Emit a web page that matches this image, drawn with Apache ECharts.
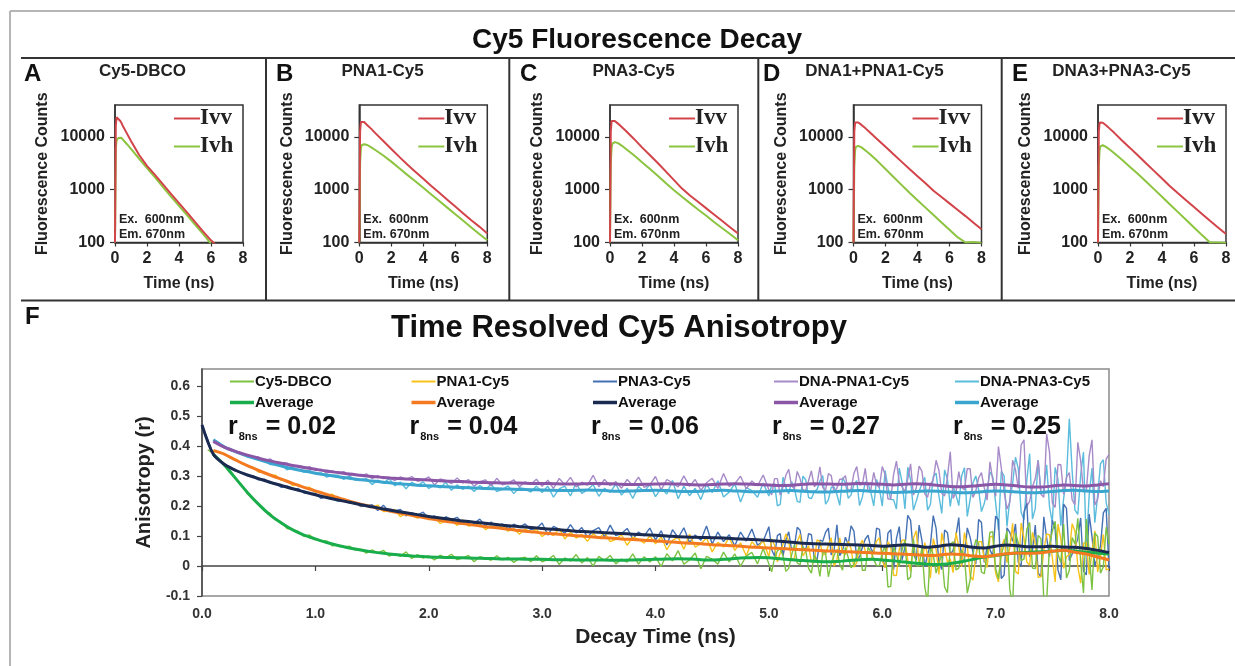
<!DOCTYPE html>
<html><head><meta charset="utf-8">
<script src="https://cdn.jsdelivr.net/npm/echarts/dist/echarts.min.js"></script>
<style>html,body{margin:0;padding:0;background:#fff}#c{width:1235px;height:666px}</style>
</head><body><div id="c"></div>
<script>
// ---------------- DATA ----------------
const panelLetters = ['A','B','C','D','E'];
const panelNames = ['Cy5-DBCO','PNA1-Cy5','PNA3-Cy5','DNA1+PNA1-Cy5','DNA3+PNA3-Cy5'];
const decayLegend = ['Ivv','Ivh'];
const decayYLabels = [100, 1000, 10000];
const decayT = [0,0.05,0.1,0.15,0.2,0.3,0.4,0.5,0.75,1,1.5,2,2.5,3,3.5,4,4.5,5,5.5,6,6.5,7,7.5,8];
const ivvA = [100,15850,23440,23170,22390,20420,18410,15850,11480,8320,4570,2820,1905,1259,832,556,372,245,162,110,79,null,null,null];
const ivhA = [100,6030,8510,9230,9510,9590,9550,9120,7240,5890,3890,2570,1700,1120,741,495,331,219,145,95,null,null,null,null];
const ivvB = [100,12590,19050,19950,19720,19050,18200,16600,14130,11750,8320,5890,4170,2985,2188,1603,1175,871,646,479,355,263,200,148];
const ivhB = [100,3160,6030,6920,7160,7240,7160,7000,6310,5620,4420,3390,2540,1905,1445,1084,813,610,457,343,257,193,145,110];
const ivvC = [100,12590,19950,20890,20650,19950,19050,17780,15140,12880,9120,6310,4470,3160,2190,1514,1047,776,589,447,339,257,195,148];
const ivhC = [100,3160,6310,7410,7760,7940,7850,7590,6760,5890,4470,3310,2455,1820,1318,977,733,556,422,324,245,188,145,110];
const ivvD = [100,12590,18620,19500,19280,18620,17780,16790,14450,12300,8910,6460,4680,3390,2455,1800,1318,955,724,550,417,316,237,178];
const ivhD = [100,2820,5500,6460,6680,6760,6610,6310,5500,4790,3470,2455,1738,1230,871,631,457,331,240,174,126,100,102,98];
const ivvE = [100,12590,18620,19500,19280,18410,17580,16600,14130,12020,8510,6170,4420,3160,2265,1622,1161,851,631,468,347,257,193,145];
const ivhE = [100,2820,5620,6610,6840,6920,6760,6460,5690,4950,3670,2690,1972,1429,1023,733,525,376,269,193,138,100,100,98];

const anisoNames = ['Cy5-DBCO','PNA1-Cy5','PNA3-Cy5','DNA-PNA1-Cy5','DNA-PNA3-Cy5'];
const r8ns = ['0.02','0.04','0.06','0.27','0.25'];
const anisoXLabels = ['0.0','1.0','2.0','3.0','4.0','5.0','6.0','7.0','8.0'];
const rawStep = 0.05;    // ns between raw samples (from t = 0)
const fineStart = 5.025; // extra raw samples between the regular ones, late noisy part
const avgStep = 0.1;     // ns between average samples

const rawDBCO = [null,0.387,0.374,0.354,0.339,0.310,0.290,0.270,0.241,0.227,
0.206,0.184,0.176,0.154,0.147,0.125,0.121,0.115,0.098,0.103,
0.087,0.084,0.083,0.067,0.070,0.063,0.066,0.053,0.056,0.043,
0.054,0.043,0.052,0.033,0.040,0.032,0.047,0.025,0.038,0.026,
0.034,0.020,0.036,0.027,0.039,0.021,0.026,0.035,0.014,0.031,
0.026,0.019,0.034,0.020,0.029,0.012,0.025,0.029,0.014,0.034,
0.014,0.021,0.035,0.005,0.027,0.016,0.038,0.010,0.028,0.000,
0.032,0.018,0.035,0.007,0.023,0.013,0.040,0.006,0.031,0.013,
0.031,-0.002,0.041,0.017,0.051,0.006,0.020,0.043,-0.009,0.032,
0.023,0.006,0.046,0.014,0.040,-0.001,0.033,0.045,0.007,0.058,
0.007,0.026,0.059,-0.018,0.036,0.010,0.063,-0.008,0.036,-0.035,
0.044,0.009,0.055,-0.014,0.028,0.004,0.071,-0.014,0.047,0.001,
0.044,-0.070,0.065,-0.001,0.085,-0.037,0.001,0.063,-0.120,0.037,
0.013,-0.070,0.072,-0.013,0.054,-0.090,0.038,0.074,-0.026,0.112,
-0.009,0.038,0.117,-0.130,0.077,0.023,0.145,-0.009,0.091,-0.120,
0.115,0.039,0.140,-0.015,0.072,0.015,0.156,-0.080,0.098,-0.003,
0.073];
const rawPNA1 = [null,null,0.381,0.379,0.374,0.359,0.356,0.341,0.334,0.329,
0.312,0.312,0.302,0.302,0.285,0.285,0.268,0.272,0.261,0.262,
0.246,0.245,0.236,0.239,0.222,0.225,0.213,0.213,0.200,0.205,
0.195,0.203,0.181,0.183,0.188,0.164,0.177,0.169,0.159,0.171,
0.154,0.161,0.141,0.151,0.153,0.135,0.153,0.133,0.136,0.141,
0.121,0.133,0.125,0.135,0.116,0.125,0.106,0.123,0.113,0.122,
0.098,0.112,0.101,0.125,0.090,0.112,0.093,0.105,0.082,0.108,
0.091,0.112,0.081,0.089,0.104,0.069,0.096,0.089,0.076,0.100,
0.074,0.097,0.054,0.085,0.096,0.056,0.106,0.063,0.074,0.093,
0.047,0.079,0.063,0.095,0.052,0.077,0.034,0.081,0.059,0.085,
0.030,0.069,0.043,0.107,0.021,0.080,0.034,0.068,0.012,0.081,
0.040,0.094,0.019,0.043,0.082,-0.004,0.066,0.050,0.019,0.083,
0.018,0.081,-0.031,0.056,0.087,-0.018,0.117,0.004,0.035,0.091,
-0.028,0.062,0.024,0.111,-0.002,0.067,-0.047,0.080,0.023,0.097,
-0.024,0.058,0.011,0.142,-0.027,0.092,0.002,0.073,-0.036,0.106,
0.029,0.140,-0.008,0.039,0.116,-0.057,0.080,0.045,-0.020,0.105,
-0.010];
const rawPNA3 = [0.468,0.422,0.368,0.354,0.338,0.330,0.316,0.311,0.302,0.301,
0.286,0.289,0.276,0.275,0.262,0.266,0.256,0.258,0.243,0.241,
0.242,0.225,0.231,0.225,0.216,0.222,0.210,0.212,0.198,0.201,
0.204,0.185,0.202,0.181,0.183,0.188,0.167,0.178,0.169,0.179,
0.159,0.167,0.148,0.164,0.154,0.162,0.143,0.150,0.142,0.156,
0.134,0.146,0.133,0.140,0.124,0.139,0.129,0.140,0.121,0.125,
0.143,0.103,0.132,0.123,0.109,0.138,0.110,0.128,0.096,0.118,
0.128,0.097,0.136,0.101,0.108,0.125,0.090,0.113,0.100,0.126,
0.087,0.117,0.070,0.121,0.094,0.127,0.078,0.103,0.086,0.133,
0.073,0.113,0.081,0.104,0.067,0.113,0.083,0.123,0.069,0.083,
0.131,0.033,0.108,0.087,0.054,0.129,0.061,0.108,0.029,0.086,
0.112,0.037,0.137,0.051,0.071,0.116,0.030,0.089,0.058,0.126,
0.026,0.109,-0.012,0.131,0.063,0.152,0.019,0.085,0.038,0.168,
0.010,0.120,0.039,0.100,0.004,0.127,0.046,0.155,0.012,0.055,
0.166,-0.042,0.127,0.082,0.012,0.179,0.031,0.136,-0.035,0.094,
0.152,-0.013,0.206,0.018,0.062,0.160,-0.030,0.098,0.030,0.177,
-0.010];
const rawDNA1 = [null,null,0.417,0.405,0.393,0.391,0.380,0.377,0.365,0.365,
0.363,0.349,0.357,0.343,0.342,0.343,0.329,0.333,0.327,0.331,
0.318,0.322,0.309,0.317,0.310,0.314,0.302,0.305,0.300,0.307,
0.291,0.301,0.291,0.296,0.284,0.297,0.288,0.298,0.282,0.286,
0.297,0.270,0.290,0.285,0.274,0.293,0.276,0.288,0.265,0.281,
0.287,0.266,0.292,0.270,0.276,0.287,0.264,0.280,0.272,0.289,
0.265,0.286,0.258,0.291,0.271,0.295,0.263,0.279,0.269,0.302,
0.264,0.288,0.268,0.281,0.259,0.288,0.268,0.296,0.262,0.270,
0.298,0.253,0.288,0.277,0.263,0.300,0.265,0.288,0.252,0.277,
0.292,0.258,0.308,0.265,0.274,0.299,0.257,0.283,0.267,0.303,
0.254,0.291,0.236,0.302,0.266,0.315,0.253,0.284,0.264,0.330,
0.251,0.301,0.259,0.289,0.247,0.308,0.269,0.325,0.255,0.270,
0.331,0.223,0.304,0.279,0.248,0.340,0.260,0.315,0.229,0.287,
0.318,0.233,0.380,0.246,0.264,0.324,0.228,0.293,0.260,0.347,
0.232,0.327,0.190,0.352,0.258,0.420,0.215,0.291,0.239,0.440,
0.210,0.338,0.238,0.311,0.204,0.351,0.250,0.420,0.222,0.264,
0.372];
const rawDNA3 = [null,null,0.419,0.411,0.393,0.390,0.378,0.374,0.363,0.362,
0.352,0.355,0.338,0.337,0.339,0.320,0.327,0.321,0.312,0.318,
0.307,0.310,0.296,0.302,0.302,0.288,0.300,0.286,0.287,0.291,
0.271,0.286,0.276,0.291,0.267,0.279,0.257,0.279,0.267,0.280,
0.258,0.269,0.260,0.279,0.252,0.270,0.255,0.266,0.248,0.268,
0.255,0.272,0.248,0.255,0.267,0.241,0.261,0.257,0.246,0.266,
0.245,0.266,0.229,0.257,0.266,0.233,0.277,0.242,0.253,0.271,
0.232,0.259,0.245,0.273,0.236,0.259,0.225,0.265,0.248,0.271,
0.231,0.259,0.240,0.285,0.224,0.266,0.234,0.259,0.221,0.271,
0.244,0.284,0.230,0.246,0.274,0.213,0.261,0.251,0.229,0.276,
0.233,0.274,0.205,0.261,0.281,0.215,0.299,0.228,0.247,0.282,
0.206,0.262,0.238,0.294,0.225,0.271,0.201,0.280,0.244,0.288,
0.199,0.262,0.221,0.326,0.190,0.287,0.216,0.273,0.186,0.298,
0.233,0.320,0.198,0.237,0.300,0.165,0.277,0.254,0.208,0.313,
0.211,0.315,0.132,0.274,0.324,0.154,0.374,0.192,0.245,0.337,
0.144,0.289,0.225,0.490,0.186,0.302,0.060,0.326,0.236,0.354,
0.172];

// extra raw samples at t = 5.025, 5.075, ... 7.975
const fineDBCO = [-0.019,0.050,0.033,-0.008,0.070,0.004,0.053,-0.024,0.020,0.044,
-0.036,0.035,0.006,0.062,-0.006,0.035,-0.014,0.062,0.022,0.001,
0.067,-0.068,0.040,0.054,-0.046,0.090,0.000,-0.070,0.062,-0.024,
0.038,-0.089,0.081,-0.007,0.032,-0.047,0.088,-0.020,0.039,0.114,
-0.043,0.072,-0.078,0.109,0.018,0.122,-0.007,0.102,-0.110,0.070,
0.149,0.011,-0.040,0.095,0.159,-0.090,0.045,0.110,-0.024,0.129];
const finePNA1 = [0.090,0.014,0.073,0.082,0.026,0.105,0.049,0.013,0.087,0.036,
0.070,-0.001,0.094,0.038,0.057,0.011,0.086,0.020,0.049,0.093,
-0.006,0.065,-0.032,0.086,0.020,0.092,0.005,0.078,-0.041,0.055,
0.110,0.012,-0.022,0.064,0.111,-0.033,0.033,0.082,-0.005,0.099,
-0.053,0.089,0.061,-0.018,0.143,0.013,0.112,-0.038,0.053,0.104,
-0.053,0.090,0.031,0.141,-0.002,0.075,-0.028,0.117,0.032,-0.013];
const finePNA3 = [0.054,0.101,0.033,0.114,0.064,0.119,0.052,0.104,0.020,0.082,
0.126,0.052,0.034,0.096,0.134,0.025,0.063,0.103,0.043,0.122,
-0.005,0.121,0.091,0.020,0.169,0.040,0.136,-0.003,0.071,0.125,
-0.012,0.111,0.052,0.161,0.026,0.096,0.007,0.145,0.062,0.032,
0.153,-0.030,0.112,0.140,0.000,0.208,0.053,-0.024,0.164,0.032,
0.122,-0.046,0.192,0.040,0.091,-0.016,0.173,0.001,0.067,0.192];
const fineDNA1 = [0.237,0.291,0.264,0.322,0.257,0.291,0.251,0.317,0.273,0.261,
0.308,0.244,0.289,0.301,0.255,0.331,0.272,0.248,0.312,0.262,
0.305,0.223,0.349,0.263,0.290,0.236,0.333,0.240,0.273,0.352,
0.242,0.296,0.225,0.314,0.253,0.324,0.249,0.311,0.219,0.285,
0.398,0.247,0.212,0.321,0.403,0.199,0.264,0.352,0.229,0.380,
0.195,0.337,0.296,0.220,0.412,0.247,0.366,0.203,0.284,0.356];
const fineDNA3 = [0.269,0.200,0.296,0.240,0.258,0.212,0.287,0.224,0.255,0.301,
0.220,0.263,0.202,0.276,0.237,0.284,0.230,0.276,0.200,0.258,
0.318,0.221,0.190,0.279,0.329,0.186,0.249,0.295,0.205,0.309,
0.175,0.289,0.266,0.201,0.327,0.221,0.300,0.181,0.255,0.297,
0.120,0.300,0.220,0.362,0.179,0.284,0.156,0.353,0.250,0.198,
0.328,0.134,0.291,0.316,0.172,0.379,0.235,0.144,0.340,0.211];

const avgDBCO = [null,0.372,0.335,0.290,0.245,0.205,0.170,0.143,0.120,0.103,
0.090,0.078,0.068,0.060,0.053,0.047,0.042,0.038,0.035,0.032,
0.030,0.029,0.028,0.027,0.026,0.025,0.024,0.023,0.023,0.022,
0.022,0.021,0.021,0.020,0.020,0.020,0.019,0.019,0.020,0.021,
0.022,0.023,0.024,0.023,0.021,0.020,0.022,0.025,0.027,0.028,
0.027,0.024,0.021,0.018,0.016,0.014,0.015,0.018,0.021,0.022,
0.020,0.017,0.013,0.009,0.006,0.005,0.008,0.014,0.022,0.030,
0.035,0.040,0.044,0.046,0.047,0.049,0.052,0.050,0.046,0.043,
0.040];
const avgPNA1 = [null,0.385,0.372,0.352,0.334,0.318,0.303,0.289,0.275,0.262,
0.250,0.238,0.227,0.216,0.206,0.197,0.188,0.180,0.172,0.165,
0.158,0.152,0.146,0.141,0.136,0.131,0.127,0.122,0.118,0.114,
0.110,0.107,0.104,0.101,0.098,0.095,0.093,0.090,0.088,0.086,
0.083,0.081,0.078,0.076,0.074,0.071,0.069,0.067,0.064,0.062,
0.060,0.058,0.056,0.054,0.052,0.050,0.049,0.047,0.046,0.044,
0.042,0.041,0.039,0.037,0.035,0.036,0.040,0.038,0.033,0.031,
0.036,0.041,0.043,0.042,0.044,0.049,0.052,0.046,0.040,0.030,
0.020];
const avgPNA3 = [0.470,0.372,0.338,0.318,0.303,0.291,0.279,0.268,0.257,0.247,
0.237,0.228,0.220,0.212,0.204,0.197,0.190,0.183,0.177,0.171,
0.165,0.160,0.155,0.150,0.146,0.142,0.138,0.134,0.131,0.128,
0.125,0.122,0.119,0.116,0.114,0.112,0.110,0.108,0.106,0.104,
0.102,0.100,0.097,0.096,0.095,0.094,0.093,0.091,0.089,0.087,
0.085,0.082,0.079,0.076,0.074,0.073,0.072,0.071,0.070,0.068,
0.066,0.068,0.071,0.067,0.062,0.066,0.071,0.068,0.062,0.060,
0.066,0.070,0.067,0.064,0.064,0.066,0.063,0.062,0.058,0.052,
0.045];
const avgDNA1 = [null,0.415,0.395,0.381,0.369,0.359,0.350,0.342,0.335,0.328,
0.322,0.316,0.311,0.306,0.302,0.298,0.295,0.292,0.290,0.288,
0.286,0.284,0.282,0.281,0.279,0.278,0.277,0.276,0.276,0.275,
0.275,0.274,0.273,0.273,0.274,0.275,0.274,0.272,0.271,0.272,
0.273,0.274,0.273,0.271,0.270,0.271,0.273,0.274,0.273,0.271,
0.270,0.268,0.269,0.272,0.274,0.273,0.272,0.273,0.275,0.274,
0.272,0.270,0.272,0.274,0.272,0.268,0.265,0.264,0.266,0.270,
0.272,0.270,0.266,0.263,0.263,0.266,0.270,0.268,0.266,0.270,
0.274];
const avgDNA3 = [null,0.420,0.396,0.380,0.366,0.354,0.343,0.333,0.324,0.316,
0.309,0.303,0.297,0.292,0.287,0.283,0.279,0.275,0.272,0.269,
0.267,0.265,0.263,0.261,0.260,0.258,0.257,0.256,0.255,0.254,
0.253,0.252,0.251,0.252,0.253,0.252,0.250,0.249,0.250,0.251,
0.252,0.251,0.249,0.248,0.249,0.251,0.252,0.250,0.248,0.247,
0.248,0.250,0.251,0.249,0.247,0.246,0.248,0.250,0.251,0.249,
0.247,0.245,0.246,0.248,0.250,0.249,0.246,0.244,0.245,0.248,
0.250,0.249,0.246,0.244,0.245,0.248,0.251,0.252,0.250,0.248,
0.250];

// ---------------- STYLE / LAYOUT ----------------
const FONT = '"Liberation Sans", Arial, Helvetica, sans-serif';
const SERIF = '"Liberation Serif", "Times New Roman", serif';
const RED = '#d2444a', GRN = '#8cc43f';
const rawColors = ['#7cc242','#f8c21c','#4470b4','#a78bc8','#5bbcdc'];
const avgColors = ['#19ad4b','#f37a21','#1b2a50','#8c56a6','#3aa5cf'];
const ivv = [ivvA, ivvB, ivvC, ivvD, ivvE];
const ivh = [ivhA, ivhB, ivhC, ivhD, ivhE];
const raws = [rawDBCO, rawPNA1, rawPNA3, rawDNA1, rawDNA3];
const fines = [fineDBCO, finePNA1, finePNA3, fineDNA1, fineDNA3];
const avgs = [avgDBCO, avgPNA1, avgPNA3, avgDNA1, avgDNA3];

const plotLefts = [115, 359.3, 610, 853.5, 1098];
const letterX = [24, 276, 520, 763, 1012];
const titleX = [142.5, 382.5, 633.5, 874.5, 1121.5];
const legendFX = [230, 411.5, 593, 774, 955];

const grids = [], xAxes = [], yAxes = [], series = [], legends = [], graphics = [];
const bold = (size, color) => ({fontFamily: FONT, fontWeight: 'bold', fontSize: size, color: color || '#222'});

plotLefts.forEach((l, k) => {
  grids.push({left: l, top: 105, width: 128, height: 137.5, show: true, borderColor: '#333', borderWidth: 1.5, outerBoundsMode: 'none'});
  xAxes.push({type: 'value', gridIndex: k, min: 0, max: 8, interval: 2,
    name: 'Time (ns)', nameLocation: 'middle', nameGap: 33, nameTextStyle: bold(16),
    axisLine: {lineStyle: {color: '#333', width: 1.5}},
    axisTick: {length: 4, lineStyle: {color: '#333', width: 1.2}},
    axisLabel: Object.assign(bold(16), {margin: 8}), splitLine: {show: false}});
  yAxes.push({type: 'log', logBase: 10, gridIndex: k, min: 100, max: 40000,
    name: 'Fluorescence Counts', nameLocation: 'middle', nameGap: 64, nameTextStyle: bold(16),
    axisLine: {lineStyle: {color: '#333', width: 1.5}},
    axisTick: {length: 5, lineStyle: {color: '#333', width: 1.2}},
    axisLabel: Object.assign(bold(16), {margin: 10, showMaxLabel: false,
      formatter: v => decayYLabels.indexOf(Math.round(v)) >= 0 ? String(Math.round(v)) : ''}),
    splitLine: {show: false}, minorTick: {show: false}});
  series.push({type: 'line', name: 'Ivv', xAxisIndex: k, yAxisIndex: k, symbol: 'none', clip: true,
    data: decayT.map((t, i) => [t, ivv[k][i]]), lineStyle: {color: RED, width: 2}, itemStyle: {color: RED}, z: 3});
  series.push({type: 'line', name: 'Ivh', xAxisIndex: k, yAxisIndex: k, symbol: 'none', clip: true,
    data: decayT.map((t, i) => [t, ivh[k][i]]), lineStyle: {color: GRN, width: 2}, itemStyle: {color: GRN}, z: 2});
  legends.push({data: decayLegend, icon: 'rect', orient: 'vertical', left: l + 59, top: 107, padding: 0,
    itemWidth: 26, itemHeight: 2, itemGap: 5, selectedMode: false,
    textStyle: {fontFamily: SERIF, fontWeight: 'bold', fontSize: 23, color: '#222', padding: [0, 0, 0, -5]}});
  graphics.push({type: 'text', x: letterX[k], y: 74.5, style: {text: panelLetters[k], font: 'bold 24px ' + FONT, fill: '#111', verticalAlign: 'middle'}});
  graphics.push({type: 'text', x: titleX[k], y: 71, style: {text: panelNames[k], font: 'bold 17px ' + FONT, fill: '#222', align: 'center', verticalAlign: 'middle'}});
  graphics.push({type: 'text', x: l + 4, y: 220, style: {text: 'Ex.  600nm', font: 'bold 12.5px ' + FONT, fill: '#222', verticalAlign: 'middle'}, z: 10});
  graphics.push({type: 'text', x: l + 4, y: 234.5, style: {text: 'Em. 670nm', font: 'bold 12.5px ' + FONT, fill: '#222', verticalAlign: 'middle'}, z: 10});
});

// Panel F
grids.push({left: 202, top: 369, width: 907, height: 227, show: true, borderColor: '#8a8a8a', borderWidth: 1.5, outerBoundsMode: 'none'});
xAxes.push({type: 'value', gridIndex: 5, min: 0, max: 8, interval: 1,
  name: 'Decay Time (ns)', nameLocation: 'middle', nameGap: 31, nameTextStyle: bold(21),
  axisLine: {lineStyle: {color: '#444', width: 1.5}},
  axisTick: {length: 5, lineStyle: {color: '#444', width: 1.2}},
  axisLabel: Object.assign(bold(14, '#333'), {margin: 11, formatter: v => anisoXLabels[Math.round(v)]}), splitLine: {show: false}});
yAxes.push({type: 'value', gridIndex: 5, min: -0.1, max: 0.656, interval: 0.1,
  name: 'Anisotropy (r)', nameLocation: 'middle', nameGap: 47, nameTextStyle: bold(20),
  axisLine: {lineStyle: {color: '#444', width: 1.5}},
  axisTick: {length: 5, lineStyle: {color: '#444', width: 1.2}},
  axisLabel: Object.assign(bold(14, '#333'), {margin: 12, showMaxLabel: false,
    formatter: v => Math.abs(v) < 1e-9 ? '0' : v.toFixed(1)}), splitLine: {show: false}});

function rawPoints(k) {
  const pts = raws[k].map((v, i) => [i * rawStep, v]);
  fines[k].forEach((v, j) => pts.push([fineStart + j * rawStep, v]));
  pts.sort((a, b) => a[0] - b[0]);
  return pts;
}
const rawOrder = [4, 3, 2, 1, 0];
rawOrder.forEach(k => {
  series.push({type: 'line', name: anisoNames[k], xAxisIndex: 5, yAxisIndex: 5, symbol: 'none', clip: true,
    data: rawPoints(k), lineStyle: {color: rawColors[k], width: 1.4}, itemStyle: {color: rawColors[k]}});
});
const avgOrder = [4, 3, 0, 1, 2];
avgOrder.forEach(k => {
  series.push({type: 'line', name: anisoNames[k] + ' Average', xAxisIndex: 5, yAxisIndex: 5, symbol: 'none', clip: true, smooth: 0.3,
    data: avgs[k].map((v, i) => [i * avgStep, v]), lineStyle: {color: avgColors[k], width: 3}, itemStyle: {color: avgColors[k]}});
});
const legTxt = {fontFamily: FONT, fontWeight: 'bold', fontSize: 15, color: '#111', padding: [0, 0, 0, -4]};
anisoNames.forEach((n, k) => {
  legends.push({data: [n], icon: 'rect', left: legendFX[k], top: 374, padding: 0, itemWidth: 24, itemHeight: 2,
    selectedMode: false, textStyle: legTxt});
  legends.push({data: [n + ' Average'], icon: 'rect', left: legendFX[k], top: 395, padding: 0, itemWidth: 24, itemHeight: 3.5,
    selectedMode: false, formatter: () => 'Average', textStyle: legTxt});
  graphics.push({type: 'text', x: legendFX[k] - 2, y: 427, z: 20, style: {
    text: '{r|r}{s|8ns}{v| = ' + r8ns[k] + '}', verticalAlign: 'middle', fill: '#111',
    rich: {r: {fontFamily: FONT, fontWeight: 'bold', fontSize: 25, fill: '#111'},
           s: {fontFamily: FONT, fontWeight: 'bold', fontSize: 11, fill: '#111', verticalAlign: 'bottom', padding: [0, 1, -3, 1]},
           v: {fontFamily: FONT, fontWeight: 'bold', fontSize: 25, fill: '#111'}}}});
});

// Titles & frames
graphics.push({type: 'text', x: 637, y: 40, style: {text: 'Cy5 Fluorescence Decay', font: 'bold 28px ' + FONT, fill: '#111', align: 'center', verticalAlign: 'middle'}});
graphics.push({type: 'text', x: 619, y: 328, style: {text: 'Time Resolved Cy5 Anisotropy', font: 'bold 31px ' + FONT, fill: '#111', align: 'center', verticalAlign: 'middle'}});
graphics.push({type: 'text', x: 25, y: 317, style: {text: 'F', font: 'bold 24px ' + FONT, fill: '#111', verticalAlign: 'middle'}});
const lineG = (x1, y1, x2, y2, c, w) => ({type: 'line', shape: {x1, y1, x2, y2}, style: {stroke: c, lineWidth: w}, z: 50});
graphics.push(lineG(10, 11, 1235, 11, '#b5b5b5', 2));
graphics.push(lineG(10, 11, 10, 666, '#b5b5b5', 2));
graphics.push(lineG(21, 58, 1235, 58, '#333', 2));
graphics.push(lineG(21, 300.5, 1235, 300.5, '#333', 2));
[266, 509.3, 758.3, 1001.7].forEach(x => graphics.push(lineG(x, 58, x, 300.5, '#333', 2)));

const chart = echarts.init(document.getElementById('c'), null, {renderer: 'canvas'});
chart.setOption({
  animation: false, backgroundColor: '#fff',
  grid: grids, xAxis: xAxes, yAxis: yAxes, legend: legends, series: series, graphic: graphics
});
</script></body></html>
